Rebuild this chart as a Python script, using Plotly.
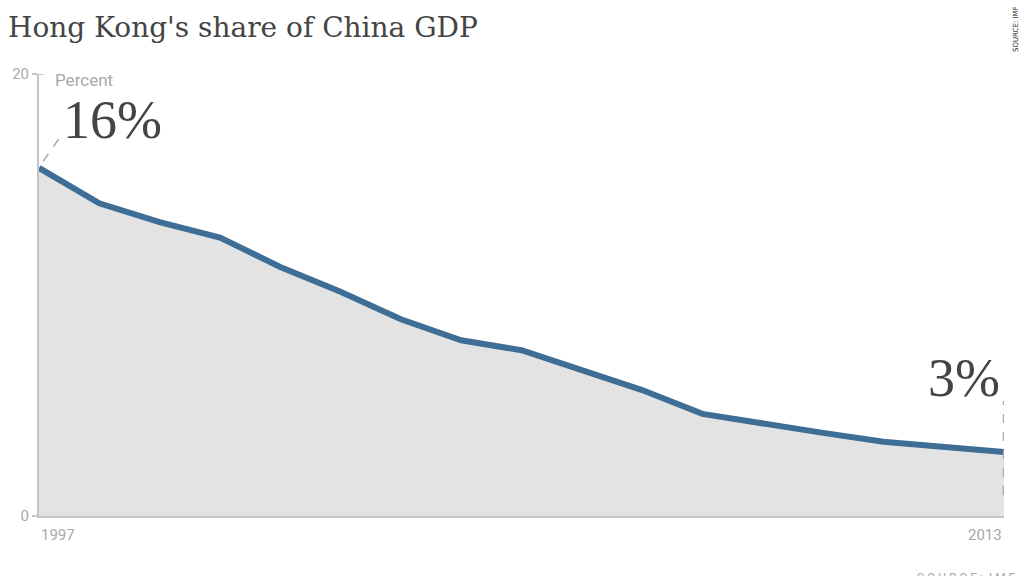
import plotly.graph_objects as go

years = list(range(1997, 2014))
share = [15.75, 14.15, 13.3, 12.6, 11.27, 10.15, 8.9, 7.95, 7.5, 6.6, 5.7, 4.62, 4.17, 3.76, 3.36, 3.12, 2.9]
y_ticks = [0, 20]
x_tick_labels = ["1997", "2013"]
title_text = "Hong Kong's share of China GDP"
first_label = "16%"
last_label = "3%"

LINE = "#3e6e95"
FILL = "#e3e3e3"
AXIS = "#c4c4c4"
GREY = "#a8a8a8"
DARK = "#444444"
NARROW = "Liberation Sans Narrow, Roboto, Arial"

fig = go.Figure()
fig.add_trace(go.Scatter(
    x=years, y=share, mode="lines", fill="tozeroy", fillcolor=FILL,
    line=dict(color=LINE, width=6), hoverinfo="skip", showlegend=False,
))

fig.update_layout(
    width=1024, height=576,
    margin=dict(l=35, r=20, t=74, b=60),
    paper_bgcolor="white", plot_bgcolor="white",
    xaxis=dict(range=[years[0], years[-1]], showgrid=False, zeroline=False,
               showline=True, linecolor=AXIS, linewidth=2, showticklabels=False,
               ticks=""),
    yaxis=dict(range=[0, 20], showgrid=False, zeroline=False, showline=True,
               linecolor=AXIS, linewidth=2, tickvals=y_ticks,
               ticktext=[str(v) for v in y_ticks], ticks="outside", ticklen=5,
               tickcolor=AXIS, tickwidth=2,
               tickfont=dict(family=NARROW, size=15, color=GREY)),
)

# tick cap on the inside at 20
fig.add_shape(type="line", xref="x domain", yref="y", x0=0, x1=0.005,
              y0=y_ticks[-1], y1=y_ticks[-1], line=dict(color=AXIS, width=2))

# x tick labels
fig.add_annotation(x=years[0], y=0, xref="x", yref="y", text=x_tick_labels[0],
                   showarrow=False, xanchor="left", yanchor="top", yshift=-8,
                   font=dict(family=NARROW, size=15, color=GREY))
fig.add_annotation(x=years[-1], y=0, xref="x", yref="y", text=x_tick_labels[1],
                   showarrow=False, xanchor="right", yanchor="top", yshift=-8,
                   font=dict(family=NARROW, size=15, color=GREY))

# Percent label
fig.add_annotation(x=0, y=1, xref="x domain", yref="y domain", text="Percent",
                   showarrow=False, xanchor="left", yanchor="middle", xshift=14,
                   yshift=-6, font=dict(family=NARROW, size=17, color=GREY))

# Title
fig.add_annotation(x=0, y=1, xref="paper", yref="paper", text=title_text,
                   showarrow=False, xanchor="left", yanchor="top", xshift=-33, yshift=65,
                   font=dict(family="DejaVu Serif", size=28, color=DARK))

# Source rotated
fig.add_annotation(x=1, y=1, xref="paper", yref="paper", text="SOURCE: IMF",
                   showarrow=False, textangle=-90, xanchor="right", yanchor="top",
                   xshift=18, yshift=70,
                   font=dict(family="DejaVu Sans", size=7, color="#222222"))
fig.add_annotation(x=1, y=0, xref="paper", yref="paper", text="S O U R C E :  I M F",
                   showarrow=False, xanchor="right", yanchor="top",
                   xshift=14, yshift=-53,
                   font=dict(family=NARROW, size=12, color=GREY))

# 16% callout
fig.add_shape(type="line", xref="x", yref="y",
              x0=years[0] + 0.07, y0=share[0] + 0.3,
              x1=years[0] + 0.35, y1=share[0] + 1.4,
              line=dict(color=GREY, width=1.5, dash="dash"))
fig.add_annotation(x=years[0], y=share[0], xref="x", yref="y", text=first_label,
                   showarrow=False, xanchor="left", yanchor="bottom",
                   xshift=22, yshift=16,
                   font=dict(family="Liberation Serif", size=54, color=DARK))

# 3% callout
fig.add_shape(type="line", xref="x", yref="y",
              x0=years[-1] - 0.01, y0=share[-1] - 1.95,
              x1=years[-1] - 0.01, y1=share[-1] + 2.3,
              line=dict(color=GREY, width=1.2, dash="dash"))
fig.add_annotation(x=years[-1], y=share[-1], xref="x", yref="y", text=last_label,
                   showarrow=False, xanchor="right", yanchor="bottom",
                   xshift=-2, yshift=42,
                   font=dict(family="Liberation Serif", size=54, color=DARK))

fig.write_html("out.html")
